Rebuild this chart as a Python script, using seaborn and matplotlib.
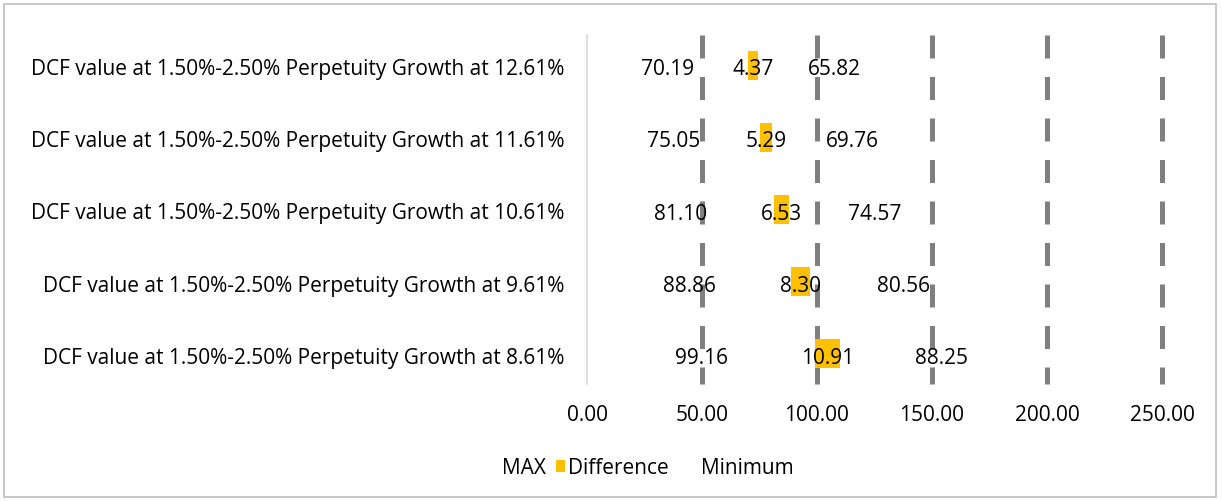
import matplotlib
matplotlib.use("Agg")
import matplotlib.pyplot as plt
import matplotlib.transforms as mtransforms
import seaborn as sns
import pandas as pd
from matplotlib.patches import Patch, Rectangle

categories = [
    "DCF value at 1.50%-2.50% Perpetuity Growth at 12.61%",
    "DCF value at 1.50%-2.50% Perpetuity Growth at 11.61%",
    "DCF value at 1.50%-2.50% Perpetuity Growth at 10.61%",
    "DCF value at 1.50%-2.50% Perpetuity Growth at 9.61%",
    "DCF value at 1.50%-2.50% Perpetuity Growth at 8.61%",
]
max_vals = [70.19, 75.05, 81.10, 88.86, 99.16]
diff_vals = [4.37, 5.29, 6.53, 8.30, 10.91]
min_vals = [65.82, 69.76, 74.57, 80.56, 88.25]
xticks = [0, 50, 100, 150, 200, 250]
series_names = ["MAX", "Difference", "Minimum"]

sns.set_theme(style="white")
plt.rcParams["font.family"] = ["Open Sans", "DejaVu Sans"]
FS = 15
ORANGE = "#FFC000"

df = pd.DataFrame({"cat": categories, "MAX": max_vals,
                   "Difference": diff_vals, "Minimum": min_vals})
df["left_diff"] = df["MAX"]
df["left_min"] = df["MAX"] + df["Difference"]

fig = plt.figure(figsize=(12.22, 5.01), dpi=100)
ax = fig.add_axes([587/1222, 1-384/501, (1162-587)/1222, (384-35)/501])

sns.barplot(data=df, y="cat", x="MAX", orient="h", ax=ax, color="white",
            alpha=0, width=0.4, order=categories)
sns.barplot(data=df, y="cat", x="Difference", orient="h", ax=ax, color=ORANGE,
            width=0.4, left=df["left_diff"].values, order=categories,
            saturation=1, linewidth=0)
sns.barplot(data=df, y="cat", x="Minimum", orient="h", ax=ax, color="white",
            alpha=0, width=0.4, left=df["left_min"].values, order=categories)

for cont in ax.containers:
    anns = ax.bar_label(cont, labels=[f"{v:.2f}" for v in cont.datavalues],
                        label_type="center", fontsize=FS, color="black", zorder=5)
    for a in anns:
        a.set_va("center_baseline")
        a.xyann = (0, -1.5)

ax.set_xlim(0, 250)
ax.set_xticks(xticks)
ax.set_xticklabels([f"{v:.2f}" for v in xticks], fontsize=FS, color="black")
ax.tick_params(axis="x", length=0, pad=15)
ax.tick_params(axis="y", length=0, pad=16, labelsize=FS, labelcolor="black")
ax.set_xlabel("")
ax.set_ylabel("")
shift = mtransforms.ScaledTranslation(0, -2/100, fig.dpi_scale_trans)
for lab in ax.get_yticklabels():
    lab.set_transform(lab.get_transform() + shift)
for s in ["top", "right", "bottom"]:
    ax.spines[s].set_visible(False)
ax.spines["left"].set_color("#d9d9d9")
ax.spines["left"].set_linewidth(1.2)

for xv in xticks[1:]:
    ax.plot([xv, xv], [1, 0], transform=ax.get_xaxis_transform(),
            color="#7f7f7f", lw=3.6, linestyle=(0, (4.6, 3.7)),
            solid_capstyle="butt", dash_capstyle="butt", zorder=0.5,
            clip_on=False)

handle_colors = ["none", ORANGE, "none"]
handle_x = [490, 556, 688]
for name, col, hx in zip(series_names, handle_colors, handle_x):
    fig.legend([Patch(facecolor=col, edgecolor="none")], [name],
               loc="center left", bbox_to_anchor=(hx/1222, 1-468/501),
               frameon=False, fontsize=FS, handlelength=0.45,
               handleheight=0.45, handletextpad=0.15, borderpad=0,
               borderaxespad=0, labelcolor="black")

fig.patches.append(Rectangle((4/1222, 4/501), 1212/1222, 493/501,
                             transform=fig.transFigure, fill=False,
                             edgecolor="#bfbfbf", lw=1.2))

fig.savefig("out.png", dpi=100)
